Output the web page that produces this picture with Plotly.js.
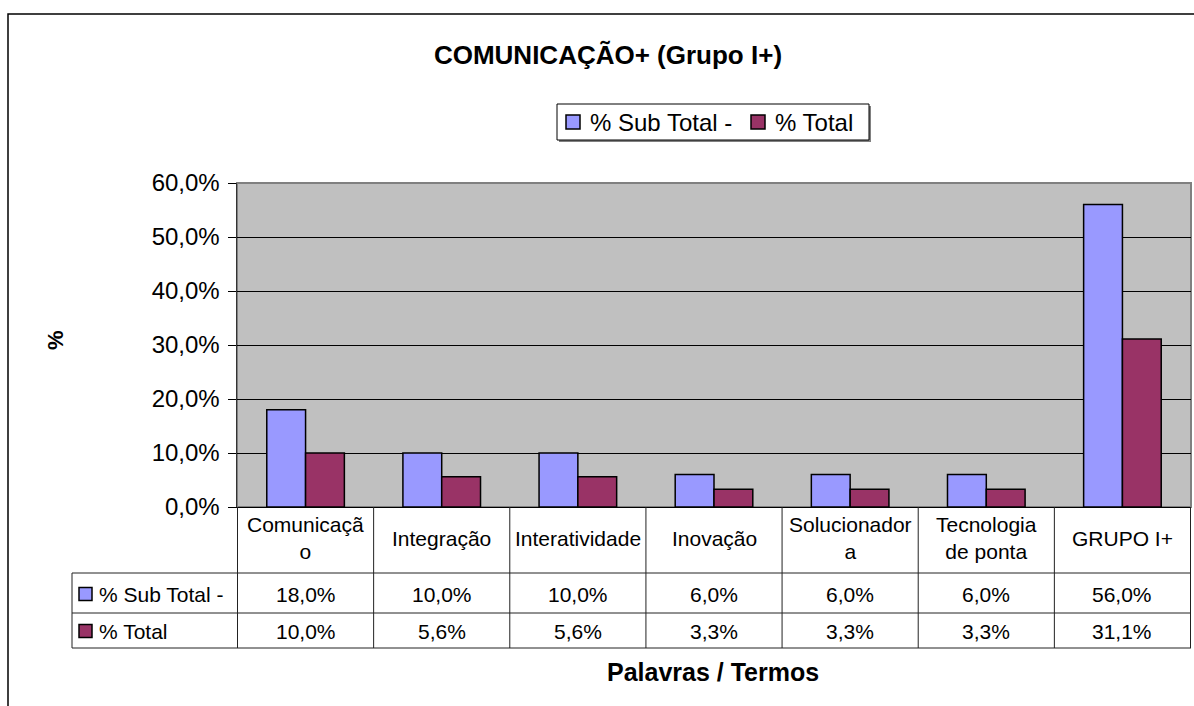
<!DOCTYPE html>
<html>
<head>
<meta charset="utf-8">
<script src="https://cdn.plot.ly/plotly-3.0.1.min.js"></script>
<style>
  html, body { margin: 0; padding: 0; background: #fff; }
  #chart { width: 1194px; height: 706px; }
</style>
</head>
<body>
<div id="chart"></div>
<script>
const categories = ["Comunicação", "Integração", "Interatividade", "Inovação", "Solucionadora", "Tecnologia de ponta", "GRUPO I+"];
const headerLabels = ["Comunicaçã<br>o", "Integração", "Interatividade", "Inovação", "Solucionador<br>a", "Tecnologia<br>de ponta", "GRUPO I+"];
const seriesNames = ["% Sub Total -", "% Total"];
const subTotal = [18.0, 10.0, 10.0, 6.0, 6.0, 6.0, 56.0];
const total = [10.0, 5.6, 5.6, 3.3, 3.3, 3.3, 31.1];
const yTicks = [0, 10, 20, 30, 40, 50, 60];

const colors = ["#9999ff", "#993366"];
const FONT = "Arial, 'Liberation Sans', sans-serif";

// plot area in pixels: x 237..1191, y 183..507
const L = 237, R = 1191, T = 183, B = 507;
const px = x => (x - L) / (R - L);
const py = y => (B - y) / (B - T);

function fmt(v) {
  return v.toFixed(1).replace(".", ",") + "%";
}

const traces = [subTotal, total].map((vals, i) => ({
  type: "bar",
  name: seriesNames[i],
  x: categories,
  y: vals,
  marker: { color: colors[i], line: { color: "#000", width: 1.5 } },
  hoverinfo: "skip"
}));

const shapes = [];
const annotations = [];

// outer chart border
shapes.push({
  type: "rect", xref: "paper", yref: "paper",
  x0: px(8), x1: px(1210), y0: py(720), y1: py(14),
  line: { color: "#000", width: 1.5 }, layer: "below"
});

// plot area frame
shapes.push({
  type: "rect", xref: "paper", yref: "paper",
  x0: 0, x1: 1, y0: 0, y1: 1,
  line: { color: "#808080", width: 2 }, layer: "below"
});

// data table grid
const rowLines = [573, 613, 648];
rowLines.forEach(y => shapes.push({
  type: "line", xref: "paper", yref: "paper",
  x0: px(72), x1: 1, y0: py(y), y1: py(y),
  line: { color: "#222", width: 1 }
}));
shapes.push({
  type: "line", xref: "paper", yref: "paper",
  x0: px(72), x1: px(72), y0: py(573), y1: py(648),
  line: { color: "#222", width: 1 }
});
for (let i = 0; i <= categories.length; i++) {
  shapes.push({
    type: "line", xref: "x", yref: "paper",
    x0: i - 0.5, x1: i - 0.5, y0: 0, y1: py(648),
    line: { color: "#222", width: 1 }
  });
}

// table cells
categories.forEach((c, i) => {
  annotations.push({
    xref: "x", yref: "paper", x: c, y: py(538),
    text: headerLabels[i], showarrow: false,
    font: { size: 21, color: "#000" }, xanchor: "center", yanchor: "middle"
  });
  annotations.push({
    xref: "x", yref: "paper", x: c, y: py(594),
    text: fmt(subTotal[i]), showarrow: false,
    font: { size: 21, color: "#000" }, xanchor: "center", yanchor: "middle"
  });
  annotations.push({
    xref: "x", yref: "paper", x: c, y: py(631),
    text: fmt(total[i]), showarrow: false,
    font: { size: 21, color: "#000" }, xanchor: "center", yanchor: "middle"
  });
});

// row headers with key boxes
[[594, 0], [631, 1]].forEach(([y, k]) => {
  shapes.push({
    type: "rect", xref: "paper", yref: "paper",
    x0: px(79), x1: px(92), y0: py(y + 6.5), y1: py(y - 6.5),
    fillcolor: colors[k], line: { color: "#000", width: 1.5 }
  });
  annotations.push({
    xref: "paper", yref: "paper", x: px(97), y: py(y),
    text: seriesNames[k], showarrow: false,
    font: { size: 21, color: "#000" }, xanchor: "left", yanchor: "middle"
  });
});

// legend box
shapes.push({
  type: "rect", xref: "paper", yref: "paper",
  x0: px(559), x1: px(871), y0: py(142), y1: py(106),
  fillcolor: "#808080", line: { width: 0 }
});
shapes.push({
  type: "rect", xref: "paper", yref: "paper",
  x0: px(557), x1: px(869), y0: py(140), y1: py(104),
  fillcolor: "#fff", line: { color: "#000", width: 1 }
});
[[566, 588, 0], [751, 773, 1]].forEach(([sx, tx, k]) => {
  shapes.push({
    type: "rect", xref: "paper", yref: "paper",
    x0: px(sx), x1: px(sx + 14), y0: py(129), y1: py(115),
    fillcolor: colors[k], line: { color: "#000", width: 1.5 }
  });
  annotations.push({
    xref: "paper", yref: "paper", x: px(tx), y: py(122),
    text: seriesNames[k], showarrow: false,
    font: { size: 24, color: "#000" }, xanchor: "left", yanchor: "middle"
  });
});

// axis titles
annotations.push({
  xref: "paper", yref: "paper", x: px(55), y: py(340),
  text: "<b>%</b>", showarrow: false, textangle: -90,
  font: { size: 22, color: "#000" }, xanchor: "center", yanchor: "middle"
});
annotations.push({
  xref: "paper", yref: "paper", x: px(713), y: py(672),
  text: "<b>Palavras / Termos</b>", showarrow: false,
  font: { size: 25, color: "#000" }, xanchor: "center", yanchor: "middle"
});

const layout = {
  width: 1194,
  height: 706,
  margin: { l: L, r: 1194 - R, t: T, b: 706 - B, pad: 0 },
  paper_bgcolor: "#fff",
  plot_bgcolor: "#c0c0c0",
  separators: ",.",
  font: { family: FONT, color: "#000" },
  showlegend: false,
  barmode: "group",
  bargap: 0.43,
  bargroupgap: 0,
  title: {
    text: "<b>COMUNICAÇÃO+ (Grupo I+)</b>",
    font: { size: 26, color: "#000" },
    x: 608 / 1194, xanchor: "center",
    y: 1 - 55 / 706, yanchor: "middle"
  },
  xaxis: {
    type: "category",
    showticklabels: false,
    showgrid: false,
    zeroline: false,
    showline: true,
    linecolor: "#000",
    linewidth: 1,
    ticks: "",
    fixedrange: true
  },
  yaxis: {
    range: [0, 60],
    tickvals: yTicks,
    ticktext: yTicks.map(fmt),
    ticks: "outside",
    ticklen: 8,
    tickcolor: "#000",
    tickwidth: 1,
    ticklabelstandoff: 3,
    tickfont: { size: 24, color: "#000" },
    showgrid: true,
    gridcolor: "#000",
    gridwidth: 1,
    zeroline: false,
    showline: true,
    linecolor: "#333",
    linewidth: 1.5,
    fixedrange: true
  },
  shapes: shapes,
  annotations: annotations
};

Plotly.newPlot("chart", traces, layout, { displayModeBar: false, staticPlot: true });
</script>
</body>
</html>
